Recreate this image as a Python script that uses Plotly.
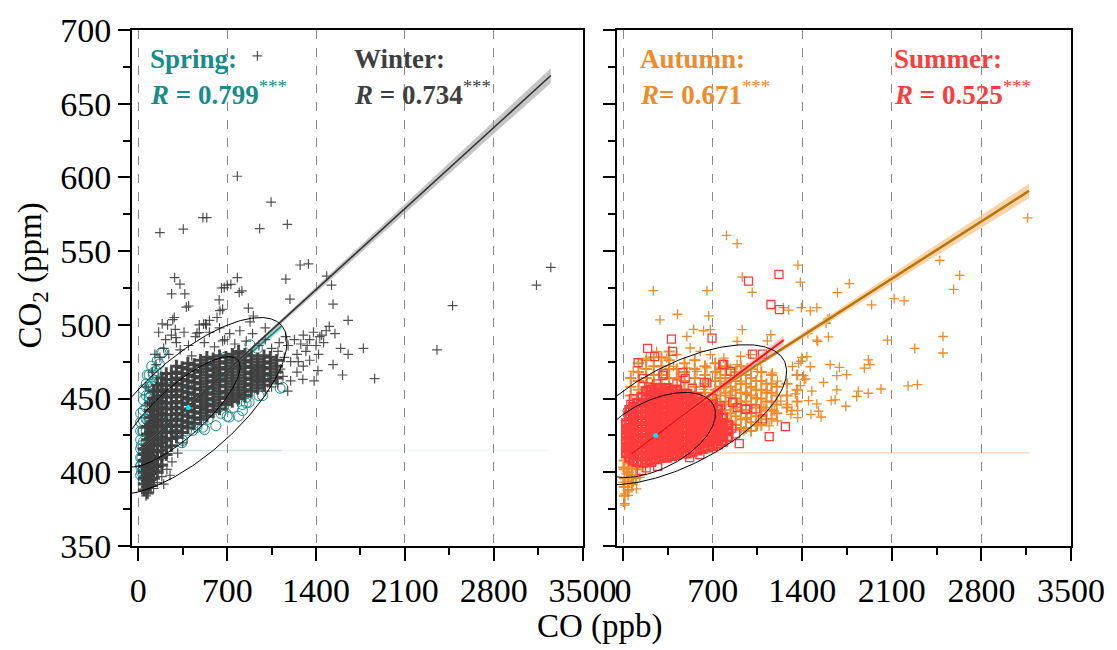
import numpy as np
import plotly.graph_objects as go

# ---------------- values ----------------
x_ticks = [0, 700, 1400, 2100, 2800, 3500]
y_ticks = [350, 400, 450, 500, 550, 600, 650, 700]

# Winter (left panel, grey crosses): dense core as columns (CO) with CO2 values
winter_col_co = [45, 70, 95, 120, 150, 185, 220, 260, 300, 345, 390, 440, 490,
                 540, 590, 640, 690, 740, 790, 840, 890, 940, 990, 1040, 1090]
winter_col_co2 = [
    [388, 392, 396, 400, 404, 408, 412, 416],
    [386, 390, 394, 398, 402, 406, 410, 414, 418, 422, 426, 431],
    [391, 395, 399, 403, 407, 411, 415, 419, 423, 427, 432, 437, 442, 447],
    [396, 401, 405, 410, 414, 418, 422, 426, 430, 434, 438, 442, 446, 450, 455],
    [400, 404, 409, 414, 418, 422, 427, 431, 435, 439, 443, 447, 451, 455, 459],
    [405, 410, 415, 420, 424, 428, 432, 436, 440, 444, 448, 452, 456, 460, 464],
    [412, 417, 422, 427, 431, 435, 439, 443, 447, 451, 455, 459, 463, 467],
    [418, 423, 427, 431, 435, 439, 443, 447, 451, 455, 459, 463, 467],
    [424, 428, 432, 436, 440, 444, 448, 452, 456, 460, 464, 468, 472],
    [427, 431, 435, 439, 443, 447, 451, 455, 459, 463, 467, 471],
    [430, 434, 438, 442, 446, 450, 454, 458, 462, 466, 470, 474],
    [433, 437, 441, 445, 449, 453, 457, 461, 465, 469, 473],
    [436, 440, 444, 448, 452, 456, 460, 464, 468, 472, 476],
    [438, 442, 446, 450, 454, 458, 462, 466, 470, 474, 478],
    [441, 445, 449, 453, 457, 461, 465, 469, 473, 477],
    [443, 447, 451, 455, 459, 463, 467, 471, 475, 479],
    [446, 450, 454, 458, 462, 466, 470, 474, 478],
    [448, 452, 456, 460, 464, 468, 472, 476, 480],
    [450, 454, 458, 462, 466, 470, 474, 478, 482],
    [452, 456, 460, 464, 468, 472, 476, 480],
    [455, 459, 463, 467, 471, 475, 479],
    [457, 461, 465, 469, 473, 477],
    [459, 463, 467, 471, 475, 479],
    [462, 466, 470, 474, 478],
    [464, 468, 472, 476],
]
winter_pts = [
    (938, 682.5), (780, 600.8), (1046, 583.3), (509, 572.7), (539, 572.7), (956, 565.3),
    (1174, 568.2), (354, 565), (170, 562.6), (1275, 540.6), (1340, 541.3), (1484, 533),
    (1522, 527), (1534, 514), (1653, 503), (2476, 513), (3137, 527), (3250, 539),
    (1162, 531), (1195, 517.5), (286, 532), (328, 527.6), (262, 521), (366, 521),
    (378, 512), (780, 532), (795, 522), (655, 525), (700, 527), (637, 517), (643, 509.6),
    (867, 511.4), (188, 500.6), (271, 503.6), (530, 500.6), (906, 506),
    (2353, 483), (1862, 463.5), (1773, 484), (1653, 480), (1609, 466), (1534, 473),
    (1594, 484), (1504, 499), (1549, 494), (1415, 469), (1385, 462), (1296, 463),
    (1445, 493), (1177, 455),
    (283, 505), (296, 491.4), (480, 494.8), (664, 489.2), (677, 525.2), (729, 527.5),
    (816, 523), (664, 510.6), (291, 497), (514, 500.5), (462, 494.4), (536, 500), (396, 512.8),
    (110, 468), (140, 473), (130, 480), (170, 478), (200, 484), (240, 480), (215, 490),
    (260, 493), (300, 488), (330, 483), (360, 495), (395, 486), (420, 479), (450, 492),
    (480, 500), (520, 488), (560, 495), (600, 485), (640, 498), (680, 490), (720, 494),
    (760, 487), (800, 496), (850, 489), (900, 494), (950, 486), (1000, 490), (1050, 484),
    (1100, 482), (160, 495), (230, 500), (560, 503), (620, 505), (880, 502), (1000, 498),
    (60, 384), (150, 393), (185, 397), (225, 402), (265, 407), (310, 413), (350, 420),
    (120, 389), (200, 392), (250, 398), (50, 430), (70, 445), (60, 458),
    (1120, 470), (1150, 478), (1180, 486), (1200, 475), (1230, 490), (1250, 480),
    (1280, 487), (1300, 493), (1320, 482), (1350, 490), (1380, 495), (1400, 486),
    (1430, 492), (1460, 488), (1200, 462), (1250, 468), (1300, 472), (1350, 476),
    (1420, 480), (1480, 496), (1160, 492), (1110, 488), (1000, 455), (1050, 458),
    (1100, 460), (1140, 465), (1260, 475), (1330, 486),
]

# Spring (left panel, teal open circles)
spring_col_co = [18, 40, 62, 85, 120, 170, 230, 300, 380, 460, 550, 650, 750, 850, 950]
spring_col_co2 = [
    [398, 404, 410, 416, 422, 428, 434, 440],
    [400, 407, 414, 421, 428, 435, 442, 449, 456],
    [404, 412, 420, 428, 436, 444, 452, 460],
    [410, 418, 426, 434, 442, 450, 458, 466],
    [418, 426, 434, 442, 450, 458, 466],
    [422, 430, 438, 446, 454, 462],
    [424, 432, 440, 448, 456, 464],
    [426, 434, 442, 450, 458],
    [428, 436, 444, 452, 460],
    [432, 440, 448, 456, 464],
    [436, 444, 452, 460, 468],
    [440, 448, 456, 464, 472],
    [444, 452, 460, 468],
    [447, 455, 463, 471],
    [452, 460, 468],
]
spring_pts = [
    (179, 481), (1117, 457), (119, 467.5), (104, 458.5), (89, 450.7), (819, 446),
    (849, 450.7), (789, 438), (700, 438), (611, 431.6), (521, 429), (462, 430.5),
    (343, 420), (998, 462), (938, 484), (879, 486.5), (74, 435), (35, 428), (139, 469),
    (113, 460), (165, 473.4), (192, 481.3), (87, 453), (349, 421.6), (507, 430.6),
    (716, 437.4), (821, 441.9), (873, 447.5), (978, 452), (1136, 457.6), (1057, 464.4),
    (428, 428.4), (532, 439.7), (637, 444.1), (25, 400), (28, 410), (25, 418), (40, 395),
    (20, 405), (60, 398), (250, 425), (300, 428), (680, 478), (600, 474),
    (150, 476), (105, 472), (70, 466),
]

# Summer (right panel, red open squares)
summer_col_co = [25, 50, 80, 110, 145, 180, 220, 260, 300, 340, 380, 420, 460, 500,
                 540, 580, 620, 660, 700, 740, 780, 820]
summer_col_co2 = [
    [413, 417, 421, 425, 429, 433],
    [410, 414, 418, 422, 426, 430, 434, 438, 442],
    [408, 412, 416, 420, 424, 428, 432, 436, 440, 444],
    [407, 411, 415, 419, 423, 427, 431, 435, 439, 443, 447],
    [407, 411, 415, 419, 423, 427, 431, 435, 439, 443, 447, 451],
    [407, 411, 415, 419, 423, 427, 431, 435, 439, 443, 447, 451, 455],
    [408, 412, 416, 420, 424, 428, 432, 436, 440, 444, 448, 452, 456],
    [409, 413, 417, 421, 425, 429, 433, 437, 441, 445, 449, 453, 457],
    [410, 414, 418, 422, 426, 430, 434, 438, 442, 446, 450, 454, 457],
    [410, 414, 418, 422, 426, 430, 434, 438, 442, 446, 450, 454, 457],
    [411, 415, 419, 423, 427, 431, 435, 439, 443, 447, 451, 455],
    [412, 416, 420, 424, 428, 432, 436, 440, 444, 448, 452, 456],
    [413, 417, 421, 425, 429, 433, 437, 441, 445, 449, 453],
    [413, 417, 421, 425, 429, 433, 437, 441, 445, 449, 453],
    [414, 418, 422, 426, 430, 434, 438, 442, 446, 450],
    [415, 419, 423, 427, 431, 435, 439, 443, 447, 451],
    [416, 420, 424, 428, 432, 436, 440, 444, 448],
    [417, 421, 425, 429, 433, 437, 441, 445],
    [418, 422, 426, 430, 434, 438, 442, 446],
    [419, 423, 427, 431, 435, 439, 443],
    [421, 425, 429, 433, 437],
    [424, 428, 432],
]
summer_pts = [
    (192, 484), (247, 478.5), (386, 482), (117, 474.3), (156, 463.6), (311, 465.5),
    (467, 467.8), (635, 461), (778, 473.4), (856, 447.5), (959, 443), (1089, 436.2),
    (1268, 431), (1142, 424.2), (908, 419.5), (1037, 443), (1089, 480.2), (1011, 480.2),
    (1218, 534.3), (980, 529.7), (1155, 513.8), (1222, 510.3), (378, 490.3), (695, 491),
    (315, 466.7), (485, 463.6), (787, 473), (839, 468.5), (655, 460.7), (892, 443.8),
    (957, 442.7), (774, 422.5), (406, 411.9), (341, 411.9), (223, 406.8), (144, 401.1),
    (80, 450), (60, 446), (260, 460), (200, 458), (420, 460), (540, 457), (700, 450),
    (760, 445), (850, 430), (880, 426), (600, 412), (520, 410), (270, 404), (180, 403),
]

# Autumn (right panel, orange crosses)
autumn_col_co = [10, 40, 70, 100, 60, 120, 180, 240, 300, 360, 420, 480, 560, 640, 720,
                 760, 800, 840, 880, 920, 960, 1000, 1040, 1080, 1120, 1160, 1200, 1280, 1360]
autumn_col_co2 = [
    [384, 390, 396, 402, 408],
    [388, 394, 400, 406],
    [392, 398, 404],
    [396, 402],
    [452, 458, 464],
    [456, 462, 468, 474],
    [458, 464, 470, 476],
    [460, 466, 472, 478],
    [460, 466, 472, 478],
    [458, 464, 470, 476, 482],
    [458, 464, 470],
    [456, 462, 468, 474],
    [452, 458, 464, 470, 476],
    [448, 454, 460, 466, 472],
    [444, 450, 456, 462, 468, 474],
    [440, 446, 452, 458, 464, 470],
    [436, 442, 448, 454, 460, 466, 472],
    [434, 440, 446, 452, 458, 464, 470],
    [432, 438, 444, 450, 456, 462, 468],
    [430, 436, 442, 448, 454, 460, 466, 472],
    [430, 436, 442, 448, 454, 460, 466],
    [428, 434, 440, 446, 452, 458, 464, 470],
    [432, 438, 444, 450, 456, 462],
    [432, 438, 444, 450, 456, 462, 468],
    [436, 442, 448, 454, 460],
    [436, 442, 448, 454, 460, 466],
    [440, 446, 452, 458],
    [444, 452, 460],
    [448, 456, 466],
]
autumn_pts = [
    (3161, 572.5), (2474, 543.7), (2630, 533.6), (2583, 524.1), (2118, 517.8), (2196, 516.2),
    (2500, 492.1), (2500, 480.9), (2279, 484), (2066, 489.7), (1942, 513.5), (1768, 527.9),
    (1675, 521.8), (1366, 540.5), (1385, 529), (1393, 511.7), (1514, 511.7), (1463, 509.5),
    (1294, 510), (1605, 491.9), (1514, 489.7), (1916, 476.2), (1929, 473), (1885, 470.7),
    (1618, 473), (1690, 471.2), (1670, 465.5), (1747, 466.2), (1566, 461), (2015, 456.5),
    (2227, 458.6), (2300, 459.5), (1916, 453.6), (1825, 451.4), (1838, 455), (1670, 455.9),
    (1657, 449.1), (1626, 448.6), (1740, 444.8), (1397, 477.9), (1436, 478.4), (1372, 473.9),
    (1463, 471.6), (1410, 465.5), (1428, 463.3), (1385, 458.8), (1475, 455), (1449, 448.6),
    (1514, 446.4), (1346, 453.2), (1319, 441.9), (1527, 441.4), (1444, 494.1), (1600, 503.9),
    (808, 560.7), (891, 555.1), (931, 532.4), (1009, 522), (655, 523.2), (236, 523.2),
    (288, 503.4), (425, 507.2), (669, 506.1), (682, 496.7), (551, 497), (931, 496.7),
    (1253, 511.7), (1586, 501.1), (1612, 504.5),
    (498, 492.1), (629, 496), (891, 488.8), (1154, 493.3), (1127, 489.2), (1521, 488.8),
    (1547, 437.5), (1468, 439.3), (1364, 442), (1311, 439.3), (1364, 437.1), (1416, 462.9),
    (1390, 475.3), (1324, 471.9), (1206, 461.8), (1167, 467.4), (1127, 455.5), (1232, 448.3),
    (1285, 446.1), (1206, 434.8), (1141, 431.5), (1049, 431.5), (1180, 441.6), (944, 428.1),
    (813, 424.7), (970, 437.1), (1101, 443.8), (1049, 450.6), (996, 457.3), (918, 461.8),
    (852, 455.1), (787, 457.3), (839, 450.6), (891, 446.1), (970, 452.8), (1049, 468.5),
    (970, 470.8), (891, 473), (1075, 475.3), (996, 479.8), (918, 478.7), (787, 477.5),
    (682, 479.8), (603, 482), (524, 484.3), (420, 479.8), (341, 477.5), (262, 482),
    (183, 477.5), (79, 468.5), (26, 441.6), (52, 437.1), (655, 470.8), (734, 468.5),
    (577, 468.5), (498, 470.8), (393, 471.9), (682, 461.8), (760, 461.8), (629, 456.2),
    (708, 453.9),
    (26, 398.9), (0, 393.3), (13, 385.4), (39, 384.3), (13, 378.7), (105, 388.8),
    (79, 393.3), (131, 396.6), (52, 402.3), (0, 403.4), (39, 389.9), (157, 403.4),
    (105, 405.6), (12, 377.7), (39, 386.7),
]

# Fitted lines: (slope, intercept, CO start, CO end)
winter_fit = (0.0785, 414.0, 40, 3250)
spring_fit = (0.0750, 414.5, 40, 1130)
autumn_fit = (0.0555, 414.8, 15, 3172)
summer_fit = (0.0648, 408.4, 65, 1255)
spring_centroid = (393, 444)
summer_centroid = (254, 425)

# Confidence ellipses: (centre CO, centre CO2, semi-axis a, semi-axis b [px], angle [deg])
winter_ell = (412.6, 445.0, 122.1, 48.7, 41.5)
spring_ell = (330, 441, 78, 25, 42)
autumn_ell = (444.7, 439.1, 117.3, 50.2, 27.6)
summer_ell = (247.3, 425.3, 65.9, 34.1, 27.1)

KX = 89.5 / 700.0   # px per ppb
KY = 1.48           # px per ppm


def expand(cols_x, cols_y):
    xs, ys = [], []
    for cx, col in zip(cols_x, cols_y):
        for v in col:
            xs.append(cx)
            ys.append(v)
    return xs, ys


def ellipse_xy(cx, cy, a, b, ang_deg):
    t = np.linspace(0, 2 * np.pi, 240)
    th = np.radians(ang_deg)
    u = a * np.cos(t)
    v = b * np.sin(t)
    px = cx * KX + u * np.cos(th) - v * np.sin(th)
    py = cy * KY + u * np.sin(th) + v * np.cos(th)
    return px / KX, py / KY


SPRING = "#178c8c"
WINTER = "#3f3f3f"
AUTUMN = "#f08a2a"
SUMMER = "#ff3c3c"
FONT = "Liberation Serif"

fig = go.Figure()


def band(fit, h0, L, xm, fill, xa, ya):
    s, c, x0, x1 = fit
    xs = np.linspace(x0, x1, 60)
    yc = s * xs + c
    hw = h0 * np.sqrt(1 + ((xs - xm) / L) ** 2)
    fig.add_trace(go.Scatter(x=np.concatenate([xs, xs[::-1]]),
                             y=np.concatenate([yc + hw, (yc - hw)[::-1]]),
                             fill="toself", fillcolor=fill, line=dict(width=0),
                             mode="lines", hoverinfo="skip", showlegend=False,
                             xaxis=xa, yaxis=ya))


def line(fit, color, width, xa, ya):
    s, c, x0, x1 = fit
    fig.add_trace(go.Scatter(x=[x0, x1], y=[s * x0 + c, s * x1 + c], mode="lines",
                             line=dict(color=color, width=width), showlegend=False,
                             hoverinfo="skip", xaxis=xa, yaxis=ya))


def markers(xs, ys, symbol, size, color, width, xa, ya, opacity=1.0):
    fig.add_trace(go.Scatter(x=xs, y=ys, mode="markers", xaxis=xa, yaxis=ya,
                             marker=dict(symbol=symbol, size=size, color=color,
                                         opacity=opacity,
                                         line=dict(width=width, color=color)),
                             showlegend=False, hoverinfo="skip"))


def ellipse(prm, xa, ya):
    ex, ey = ellipse_xy(*prm)
    fig.add_trace(go.Scatter(x=ex, y=ey, mode="lines", xaxis=xa, yaxis=ya,
                             line=dict(color="black", width=1), showlegend=False,
                             hoverinfo="skip"))


# ---- left panel ----
sx, sy = expand(spring_col_co, spring_col_co2)
markers(sx, sy, "circle-open", 10, SPRING, 1.0, "x", "y")
markers([p[0] for p in spring_pts], [p[1] for p in spring_pts], "circle-open", 10, SPRING, 1.0, "x", "y")
fig.add_trace(go.Scatter(x=[0, 1130], y=[414.8, 414.8], mode="lines", xaxis="x", yaxis="y",
                         line=dict(color="rgba(23,140,140,0.25)", width=1.5), showlegend=False))
fig.add_trace(go.Scatter(x=[1130, 3250], y=[414.8, 414.8], mode="lines", xaxis="x", yaxis="y",
                         line=dict(color="rgba(23,140,140,0.08)", width=1.5), showlegend=False))
band(spring_fit, 0.8, 300, 393, "rgba(23,140,140,0.35)", "x", "y")
line(spring_fit, SPRING, 1.6, "x", "y")
wx, wy = expand(winter_col_co, winter_col_co2)
markers(wx, wy, "cross-thin-open", 9, WINTER, 3.0, "x", "y", 0.95)
markers([p[0] for p in winter_pts], [p[1] for p in winter_pts], "cross-thin-open", 7, WINTER, 1.2, "x", "y", 0.9)
band(winter_fit, 0.8, 454, 450, "rgba(150,150,150,0.55)", "x", "y")
line(winter_fit, "#333333", 1.6, "x", "y")
ellipse(winter_ell, "x", "y")
ellipse(spring_ell, "x", "y")
fig.add_trace(go.Scatter(x=[spring_centroid[0]], y=[spring_centroid[1]], mode="markers",
                         xaxis="x", yaxis="y", marker=dict(size=5, color="#00e5ff"),
                         showlegend=False, hoverinfo="skip"))

# ---- right panel ----
ax_, ay_ = expand(autumn_col_co, autumn_col_co2)
markers(ax_, ay_, "cross-thin-open", 8, AUTUMN, 2.0, "x2", "y2")
markers([p[0] for p in autumn_pts], [p[1] for p in autumn_pts], "cross-thin-open", 7, AUTUMN, 1.3, "x2", "y2")
fig.add_trace(go.Scatter(x=[300, 3172], y=[413.2, 413.2], mode="lines", xaxis="x2", yaxis="y2",
                         line=dict(color="rgba(245,160,90,0.45)", width=1.2), showlegend=False))
band(autumn_fit, 0.9, 500, 500, "rgba(252,196,140,0.75)", "x2", "y2")
line(autumn_fit, "#b8770b", 2.5, "x2", "y2")
mx_, my_ = expand(summer_col_co, summer_col_co2)
markers(mx_, my_, "square-open", 8, SUMMER, 2.6, "x2", "y2")
markers([p[0] for p in summer_pts], [p[1] for p in summer_pts], "square-open", 8, SUMMER, 1.3, "x2", "y2")
band(summer_fit, 0.9, 300, 254, "rgba(255,150,150,0.55)", "x2", "y2")
line(summer_fit, "#ff1010", 2.0, "x2", "y2")
ellipse(autumn_ell, "x2", "y2")
ellipse(summer_ell, "x2", "y2")
fig.add_trace(go.Scatter(x=[summer_centroid[0]], y=[summer_centroid[1]], mode="markers",
                         xaxis="x2", yaxis="y2", marker=dict(size=5, color="#00e5ff"),
                         showlegend=False, hoverinfo="skip"))

tickfont = dict(family=FONT, size=34, color="black")
common_x = dict(range=[-50, 3500], tickvals=x_ticks, ticktext=[str(v) for v in x_ticks],
                ticks="outside", ticklen=13, tickwidth=2, tickcolor="black",
                showline=True, linewidth=2, linecolor="black", mirror=True,
                showgrid=True, gridcolor="#8a8a8a", griddash="dash", gridwidth=1,
                zeroline=False, tickfont=tickfont,
                minor=dict(dtick=350, tick0=0, ticks="outside", ticklen=7, tickwidth=2,
                           tickcolor="black", showgrid=False))
common_y = dict(range=[350, 700], tickvals=y_ticks, ticks="outside", ticklen=12,
                tickwidth=2, tickcolor="black", showline=True, linewidth=2,
                linecolor="black", mirror=True, showgrid=False, zeroline=False,
                tickfont=tickfont,
                minor=dict(dtick=25, tick0=350, ticks="outside", ticklen=7, tickwidth=2,
                           tickcolor="black", showgrid=False))

fig.update_layout(
    width=1117, height=650, margin=dict(l=132, r=45, t=27, b=104),
    paper_bgcolor="white", plot_bgcolor="white",
    xaxis=dict(domain=[0, 0.4798], anchor="y", **common_x),
    yaxis=dict(domain=[0, 1], anchor="x", **common_y),
    xaxis2=dict(domain=[0.5166, 1], anchor="y2", **{**common_x, "range": [-47, 3500]}),
    yaxis2=dict(domain=[0, 1], anchor="x2", showticklabels=False, **common_y),
)

ann = []


def txt(xref, yref, x, y, text, color, size=27):
    ann.append(dict(xref=xref, yref=yref, x=x, y=y, text=text, showarrow=False,
                    xanchor="left", yanchor="middle",
                    font=dict(family=FONT, size=size, color=color)))


txt("x", "y", 74, 680, "<b>Spring:</b>", SPRING)
txt("x", "y", 74, 657, "<b><i>R</i> = 0.799</b><sup>***</sup>", SPRING)
txt("x", "y", 1683, 680, "<b>Winter:</b>", WINTER)
txt("x", "y", 1683, 657, "<b><i>R</i> = 0.734</b><sup>***</sup>", WINTER)
txt("x2", "y2", 118, 680, "<b>Autumn:</b>", AUTUMN)
txt("x2", "y2", 118, 657, "<b><i>R</i>= 0.671</b><sup>***</sup>", AUTUMN)
txt("x2", "y2", 2105, 680, "<b>Summer:</b>", SUMMER)
txt("x2", "y2", 2105, 657, "<b><i>R</i> = 0.525</b><sup>***</sup>", SUMMER)

ann.append(dict(xref="paper", yref="paper", x=0.498, y=-0.156, text="CO (ppb)",
                showarrow=False, xanchor="center", yanchor="middle",
                font=dict(family=FONT, size=33, color="black")))
ann.append(dict(xref="paper", yref="paper", x=-0.106, y=0.525, text="CO<sub>2</sub> (ppm)",
                showarrow=False, xanchor="center", yanchor="middle", textangle=-90,
                font=dict(family=FONT, size=33, color="black")))
fig.update_layout(annotations=ann)

fig.write_html("out.html")
